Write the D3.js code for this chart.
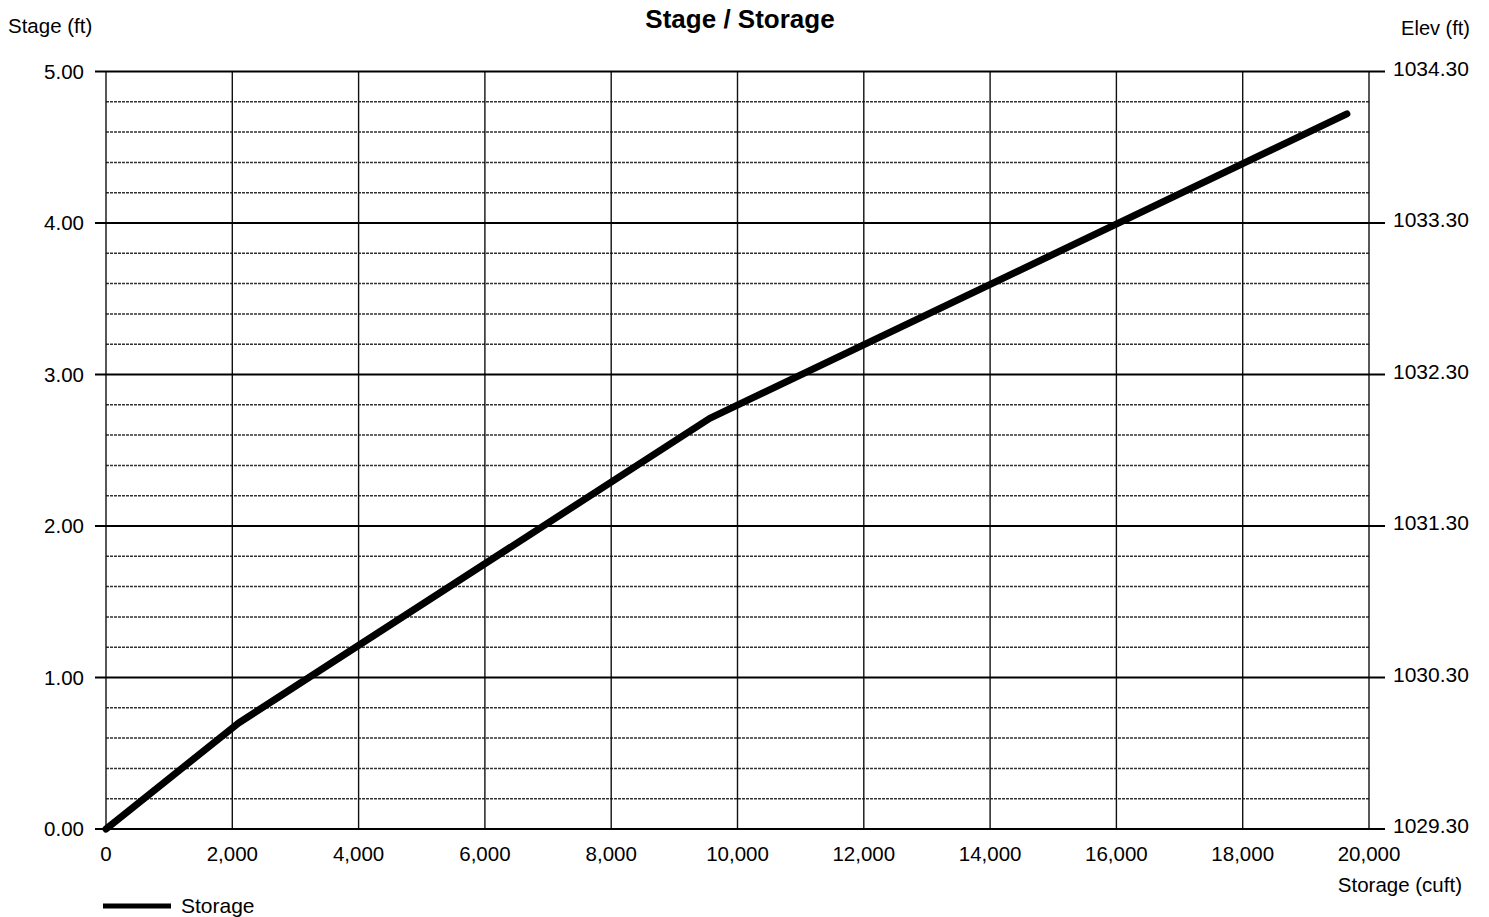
<!DOCTYPE html>
<html>
<head>
<meta charset="utf-8">
<script src="https://cdn.jsdelivr.net/npm/d3@7"></script>
<style>
  body { margin: 0; background: #fff; }
  text { font-family: "Liberation Sans", Arial, sans-serif; fill: #000; }
</style>
</head>
<body>
<svg id="chart"></svg>
<script>
// storage (cuft) vs stage (ft)
var storage = [0, 2100, 9560, 19650];
var stage = [0, 0.70, 2.71, 4.72];
var xTicks = [0, 2000, 4000, 6000, 8000, 10000, 12000, 14000, 16000, 18000, 20000];
var yTicks = [0, 1, 2, 3, 4, 5];
var baseElev = 1029.30;

var width = 1489, height = 917;
var svg = d3.select("#chart").attr("width", width).attr("height", height);

var plotLeft = 106, plotRight = 1369, plotTop = 71.5, plotBottom = 829;

var x = d3.scaleLinear().domain([0, 20000]).range([plotLeft, plotRight]);
var y = d3.scaleLinear().domain([0, 5]).range([plotBottom, plotTop]);

// minor grid every 0.2
var minor = d3.range(0, 5.001, 0.2).filter(function(v){ return Math.abs(v - Math.round(v)) > 0.01; });
svg.append("g").selectAll("line").data(minor).enter().append("line")
    .attr("x1", plotLeft).attr("x2", plotRight)
    .attr("y1", function(d){ return y(d); }).attr("y2", function(d){ return y(d); })
    .attr("stroke", "#333")
    .attr("stroke-width", 1.5)
    .attr("stroke-dasharray", "3,1");

// vertical grid
svg.append("g").selectAll("line").data(xTicks).enter().append("line")
    .attr("x1", function(d){ return x(d); }).attr("x2", function(d){ return x(d); })
    .attr("y1", plotTop).attr("y2", plotBottom)
    .attr("stroke", "#111")
    .attr("stroke-width", 1.4);

// major grid with ticks on both sides
svg.append("g").selectAll("line").data(yTicks).enter().append("line")
    .attr("x1", plotLeft - 11).attr("x2", plotRight + 16)
    .attr("y1", function(d){ return y(d); }).attr("y2", function(d){ return y(d); })
    .attr("stroke", "#000")
    .attr("stroke-width", 1.8);

// left axis labels
svg.append("g").selectAll("text").data(yTicks).enter().append("text")
    .attr("x", 84).attr("y", function(d){ return y(d) + 7; })
    .attr("text-anchor", "end")
    .attr("font-size", 20.5)
    .text(function(d){ return d3.format(".2f")(d); });

// right axis labels
svg.append("g").selectAll("text").data(yTicks).enter().append("text")
    .attr("x", 1393).attr("y", function(d){ return y(d) + 4; })
    .attr("font-size", 21)
    .text(function(d){ return d3.format(".2f")(d + baseElev); });

// bottom labels
svg.append("g").selectAll("text").data(xTicks).enter().append("text")
    .attr("x", function(d){ return x(d); }).attr("y", 861)
    .attr("text-anchor", "middle")
    .attr("font-size", 20.5)
    .text(function(d){ return d3.format(",")(d); });

// the curve
var line = d3.line()
    .x(function(d){ return x(d[0]); })
    .y(function(d){ return y(d[1]); });

svg.append("path")
    .datum(d3.zip(storage, stage))
    .attr("d", line)
    .attr("fill", "none")
    .attr("stroke", "#000")
    .attr("stroke-width", 7)
    .attr("stroke-linecap", "round")
    .attr("stroke-linejoin", "round");

// titles
svg.append("text").attr("x", 740).attr("y", 28)
    .attr("text-anchor", "middle").attr("font-size", 26).attr("font-weight", "bold")
    .text("Stage / Storage");
svg.append("text").attr("x", 8).attr("y", 33).attr("font-size", 20.5).text("Stage (ft)");
svg.append("text").attr("x", 1470).attr("y", 35).attr("text-anchor", "end").attr("font-size", 20).text("Elev (ft)");
svg.append("text").attr("x", 1462).attr("y", 892).attr("text-anchor", "end").attr("font-size", 20.5).text("Storage (cuft)");

// legend
svg.append("line").attr("x1", 103).attr("x2", 171).attr("y1", 906).attr("y2", 906)
    .attr("stroke", "#000").attr("stroke-width", 5);
svg.append("text").attr("x", 181).attr("y", 913).attr("font-size", 21).text("Storage");
</script>
</body>
</html>
